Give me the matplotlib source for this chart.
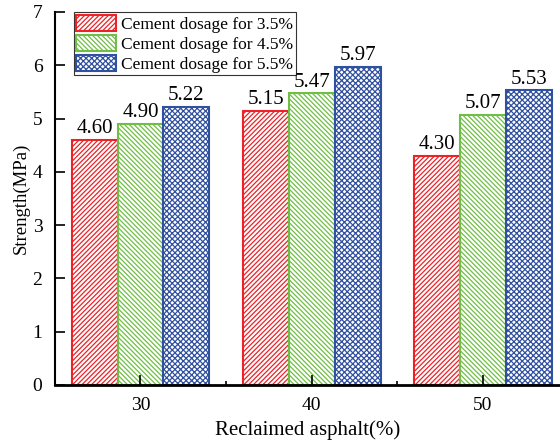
import numpy as np
import matplotlib.pyplot as plt
from matplotlib.ticker import MultipleLocator

plt.rcParams['font.family'] = ['Liberation Serif', 'DejaVu Serif']
plt.rcParams['hatch.linewidth'] = 0.9

asphalt = [30, 40, 50]
dose_35 = [4.60, 5.15, 4.30]
dose_45 = [4.90, 5.47, 5.07]
dose_55 = [5.22, 5.97, 5.53]
series_names = ['Cement dosage for 3.5%', 'Cement dosage for 4.5%', 'Cement dosage for 5.5%']

colors = ['#ec2228', '#70be46', '#3050a0']
hatches = ['///////', '\\\\\\\\\\\\\\', 'xxxxxx']

fig = plt.figure(figsize=(5.6, 4.43), dpi=100)
ax = fig.add_axes([0.098, 0.131, 0.902, 0.842])

w = 2.68
x = np.array(asphalt, dtype=float)
for k, (vals, name) in enumerate(zip([dose_35, dose_45, dose_55], series_names)):
    pos = x + (k - 1) * w
    bars = ax.bar(pos, vals, width=w, facecolor='white', edgecolor=colors[k],
                  hatch=hatches[k], linewidth=1.5, label=name)
    for b, v in zip(bars, vals):
        ax.text(b.get_x() + b.get_width() / 2, v + 0.03, f'{v:.2f}',
                ha='center', va='bottom', fontsize=15)

ax.set_xlim(25, 54.5)
ax.set_ylim(0, 7)
ax.set_xticks(asphalt)
ax.set_xticks([35, 45], minor=True)
ax.yaxis.set_major_locator(MultipleLocator(1))

for s in ['top', 'right']:
    ax.spines[s].set_visible(False)
ax.spines['left'].set_linewidth(1.5)
ax.spines['bottom'].set_linewidth(2)
ax.tick_params(axis='both', which='major', direction='in', length=7, width=1.2, labelsize=14)
ax.tick_params(axis='x', which='minor', direction='in', length=3, width=1.2)
ax.tick_params(axis='x', pad=9)
ax.tick_params(axis='y', pad=9)

ax.set_xlabel('Reclaimed asphalt(%)', fontsize=15, labelpad=4)
ax.set_ylabel('Strength(MPa)', fontsize=13.5, labelpad=2)

leg = ax.legend(loc='upper left', bbox_to_anchor=(0.037, 1.0), fontsize=12.5,
                frameon=True, fancybox=False, edgecolor='black',
                handlelength=2.3, handleheight=1.05, handletextpad=0.3,
                labelspacing=0.12, borderpad=0.15, borderaxespad=0.0)
leg.get_frame().set_linewidth(0.8)

fig.savefig('out.png', dpi=100)
